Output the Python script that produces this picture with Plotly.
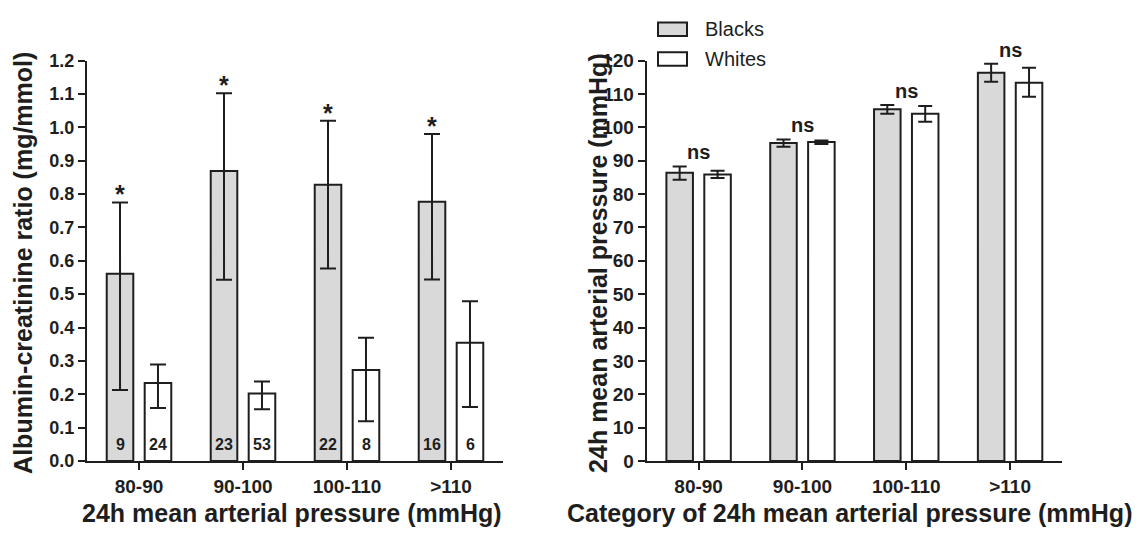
import plotly.graph_objects as go

W, H = 1138, 546

# ---------------- data ----------------
categories = ["80-90", "90-100", "100-110", ">110"]

# Left panel: albumin-creatinine ratio (mg/mmol), mean with asymmetric CI
acr_blacks = [0.561, 0.869, 0.828, 0.777]
acr_blacks_low = [0.213, 0.543, 0.577, 0.544]
acr_blacks_high = [0.775, 1.102, 1.020, 0.980]
acr_whites = [0.234, 0.202, 0.273, 0.354]
acr_whites_low = [0.159, 0.155, 0.119, 0.162]
acr_whites_high = [0.289, 0.238, 0.369, 0.479]
n_blacks = [9, 23, 22, 16]
n_whites = [24, 53, 8, 6]
acr_sig = ["*", "*", "*", "*"]

# Right panel: 24h mean arterial pressure (mmHg)
map_blacks = [86.4, 95.3, 105.4, 116.4]
map_blacks_low = [84.3, 94.2, 104.1, 113.7]
map_blacks_high = [88.3, 96.4, 106.7, 119.1]
map_whites = [85.9, 95.6, 104.1, 113.4]
map_whites_low = [84.8, 95.0, 101.7, 109.2]
map_whites_high = [87.0, 96.1, 106.4, 117.9]
map_sig = ["ns", "ns", "ns", "ns"]

acr_ticks = [round(0.1 * i, 1) for i in range(13)]
map_ticks = list(range(0, 121, 10))

# ---------------- style ----------------
FONT = "Liberation Sans, Arial, sans-serif"
INK = "#1e1e1e"
GREY = "#d9d9d9"
WHITE = "#ffffff"


def px_x(p):
    return p / W


def px_y(p):
    return 1 - p / H


fig = go.Figure()


def add_bars(xa, ya, vals, lo, hi, fill, name, cap):
    fig.add_trace(go.Bar(
        x=categories, y=vals, name=name, xaxis=xa, yaxis=ya,
        marker=dict(color=fill, line=dict(color=INK, width=2)),
        error_y=dict(type="data", symmetric=False,
                     array=[h - v for h, v in zip(hi, vals)],
                     arrayminus=[v - l for v, l in zip(vals, lo)],
                     color=INK, thickness=2, width=cap),
        showlegend=False, hoverinfo="skip",
    ))


add_bars("x", "y", acr_blacks, acr_blacks_low, acr_blacks_high, GREY, "Blacks", 8)
add_bars("x", "y", acr_whites, acr_whites_low, acr_whites_high, WHITE, "Whites", 8)
add_bars("x2", "y2", map_blacks, map_blacks_low, map_blacks_high, GREY, "Blacks", 7)
add_bars("x2", "y2", map_whites, map_whites_low, map_whites_high, WHITE, "Whites", 7)

ydom = [px_y(469), px_y(52.7)]
axis_common = dict(showline=True, linecolor=INK, linewidth=2, ticks="outside",
                   ticklen=7, tickwidth=2, tickcolor=INK, showgrid=False,
                   zeroline=False, fixedrange=True)
xfont = dict(family=FONT, size=19, color=INK, weight="bold")
yfont = dict(family=FONT, size=18, color=INK, weight="bold")
yfont2 = dict(family=FONT, size=19, color=INK, weight="bold")

fig.update_layout(
    width=W, height=H,
    margin=dict(l=0, r=0, t=0, b=0),
    paper_bgcolor="white", plot_bgcolor="white",
    barmode="group", bargap=0.27, bargroupgap=0.30,
    font=dict(family=FONT, color=INK),
    xaxis=dict(domain=[px_x(87), px_x(503)], type="category",
               categoryorder="array", categoryarray=categories,
               range=[-0.5, 3.5], anchor="y", tickfont=xfont, **axis_common),
    yaxis=dict(domain=ydom, range=[0, 1.2], tickvals=acr_ticks,
               tickformat=".1f", anchor="x", tickfont=yfont, **axis_common),
    xaxis2=dict(domain=[px_x(646.7), px_x(1062)], type="category",
                categoryorder="array", categoryarray=categories,
                range=[-0.5, 3.5], anchor="y2", tickfont=xfont, **axis_common),
    yaxis2=dict(domain=ydom, range=[0, 120], tickvals=map_ticks,
                anchor="x2", tickfont=yfont2, **axis_common),
)

ann = []
# sample sizes inside bars
for c, nb, nw in zip(categories, n_blacks, n_whites):
    for n, sh in ((nb, -19), (nw, 19)):
        ann.append(dict(x=c, y=0, xref="x", yref="y", text=str(n), showarrow=False,
                        xshift=sh, yshift=16.5, yanchor="middle",
                        font=dict(family=FONT, size=16, color=INK, weight="bold")))
# asterisks above Blacks bars (left)
for c, s, h in zip(categories, acr_sig, acr_blacks_high):
    ann.append(dict(x=c, y=h, xref="x", yref="y", text=s, showarrow=False,
                    xshift=-19, yshift=8, yanchor="middle",
                    font=dict(family=FONT, size=25, color=INK, weight="bold")))
# ns above groups (right)
for c, s, hb, hw in zip(categories, map_sig, map_blacks_high, map_whites_high):
    ann.append(dict(x=c, y=max(hb, hw), xref="x2", yref="y2", text=s, showarrow=False,
                    yshift=14, yanchor="middle",
                    font=dict(family=FONT, size=20, color=INK, weight="bold")))

title_font = dict(family=FONT, size=25, color=INK, weight="bold")
ann += [
    dict(x=px_x(292), y=px_y(523), xref="paper", yref="paper", showarrow=False,
         text="24h mean arterial pressure (mmHg)", font=title_font,
         xanchor="center", yanchor="middle"),
    dict(x=px_x(849), y=px_y(523), xref="paper", yref="paper", showarrow=False,
         text="Category of 24h mean arterial pressure (mmHg)", font=title_font,
         xanchor="center", yanchor="middle"),
    dict(x=px_x(23), y=px_y(263), xref="paper", yref="paper", showarrow=False,
         text="Albumin-creatinine ratio (mg/mmol)", font=title_font, textangle=-90,
         xanchor="center", yanchor="middle"),
    dict(x=px_x(598), y=px_y(263), xref="paper", yref="paper", showarrow=False,
         text="24h mean arterial pressure (mmHg)", font=title_font, textangle=-90,
         xanchor="center", yanchor="middle"),
]

# legend (drawn as boxes + labels)
legend_items = [("Blacks", GREY, 20), ("Whites", WHITE, 51)]
shapes = []
for label, fill, cy in legend_items:
    shapes.append(dict(type="rect", xref="paper", yref="paper",
                       x0=px_x(658), x1=px_x(687), y0=px_y(cy + 7), y1=px_y(cy - 7),
                       fillcolor=fill, line=dict(color=INK, width=2)))
    ann.append(dict(x=px_x(703), y=px_y(cy), xref="paper", yref="paper",
                    text=label, showarrow=False, xanchor="left", yanchor="middle",
                    font=dict(family=FONT, size=20, color=INK)))

fig.update_layout(annotations=ann, shapes=shapes)

fig.write_html("out.html", config={"displayModeBar": False},
               post_script="document.body.style.margin='0';document.body.style.overflow='hidden';")
